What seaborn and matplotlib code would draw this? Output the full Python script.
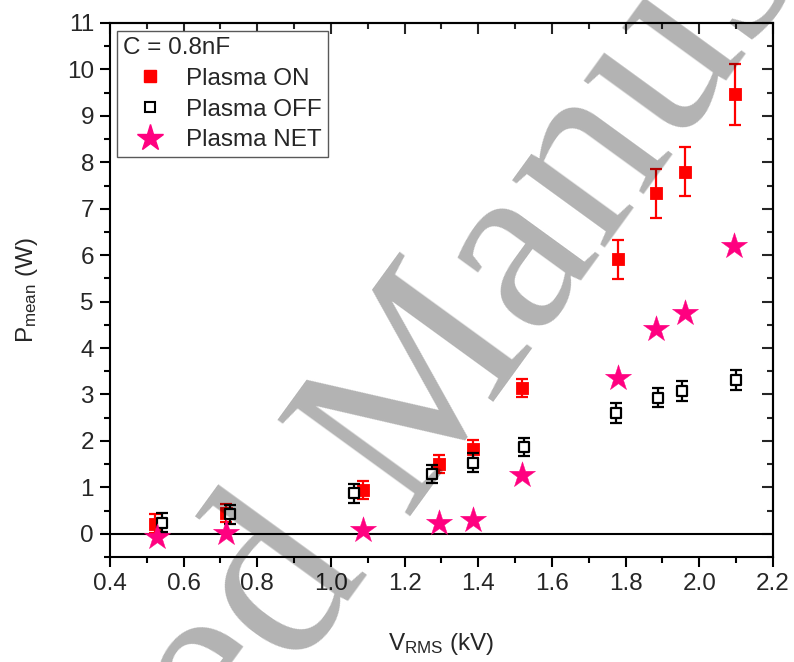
import matplotlib
matplotlib.use("Agg")
import matplotlib.pyplot as plt
import seaborn as sns
import pandas as pd
from matplotlib.lines import Line2D
from matplotlib.ticker import MultipleLocator

# Mean discharge power versus applied RMS voltage, C = 0.8 nF
v_on = [0.521, 0.714, 1.086, 1.292, 1.385, 1.520, 1.779, 1.882, 1.961, 2.098]
p_on = [0.22, 0.45, 0.94, 1.50, 1.83, 3.14, 5.91, 7.33, 7.80, 9.46]
err_on = [0.20, 0.20, 0.20, 0.20, 0.19, 0.20, 0.42, 0.52, 0.53, 0.66]

v_off = [0.542, 0.725, 1.062, 1.273, 1.385, 1.523, 1.774, 1.887, 1.953, 2.100]
p_off = [0.24, 0.42, 0.87, 1.29, 1.53, 1.87, 2.60, 2.93, 3.08, 3.31]
err_off = [0.20, 0.21, 0.20, 0.20, 0.20, 0.20, 0.21, 0.20, 0.21, 0.22]

v_net = [0.529, 0.714, 1.086, 1.292, 1.385, 1.520, 1.779, 1.882, 1.961, 2.095]
p_net = [-0.07, 0.01, 0.08, 0.23, 0.29, 1.27, 3.36, 4.42, 4.76, 6.19]

x_ticks = [0.4, 0.6, 0.8, 1.0, 1.2, 1.4, 1.6, 1.8, 2.0, 2.2]
y_ticks = list(range(0, 12))

series_labels = ["Plasma ON", "Plasma OFF", "Plasma NET"]
legend_title = "C = 0.8nF"

RED = "#FF0000"
PINK = "#FF0080"
FS = 17.5

sns.set_theme(style="ticks")
plt.rcParams["font.family"] = ["Liberation Sans", "DejaVu Sans"]
plt.rcParams["mathtext.fontset"] = "custom"
plt.rcParams["mathtext.rm"] = "Liberation Sans"
plt.rcParams["mathtext.it"] = "Liberation Sans"

df_on = pd.DataFrame({"V": v_on, "P": p_on, "err": err_on})
df_off = pd.DataFrame({"V": v_off, "P": p_off, "err": err_off})
df_net = pd.DataFrame({"V": v_net, "P": p_net})

fig = plt.figure(figsize=(7.94, 6.62), dpi=100)
ax = fig.add_axes([0.1385, 0.1586, 0.835, 0.8067])

ax.axhline(0, color="black", lw=1.5, zorder=1)

# Plasma ON
ax.errorbar(df_on["V"], df_on["P"], yerr=df_on["err"], fmt="none",
            ecolor=RED, elinewidth=1.6, capsize=4.3, capthick=1.6, zorder=2)
sns.scatterplot(data=df_on, x="V", y="P", marker="s", s=70, color=RED,
                edgecolor=RED, linewidth=0.6, ax=ax, zorder=3)

# Plasma OFF
ax.errorbar(df_off["V"], df_off["P"], yerr=df_off["err"], fmt="none",
            ecolor="black", elinewidth=1.6, capsize=4.3, capthick=1.6, zorder=4)
sns.scatterplot(data=df_off, x="V", y="P", marker="s", s=55, color="white",
                edgecolor="black", linewidth=1.6, ax=ax, zorder=5)

# Plasma NET
sns.scatterplot(data=df_net, x="V", y="P", marker="*", s=390, color=PINK,
                edgecolor=PINK, linewidth=0.3, ax=ax, zorder=6)

ax.set_xlim(0.4, 2.2)
ax.set_ylim(-0.5, 11)
ax.set_xticks(x_ticks)
ax.set_xticklabels([f"{t:.1f}" for t in x_ticks])
ax.set_yticks(y_ticks)
ax.xaxis.set_minor_locator(MultipleLocator(0.1))
ax.yaxis.set_minor_locator(MultipleLocator(0.5))

ax.set_xlabel(r"V$_{\mathregular{RMS}}$ (kV)", fontsize=FS, labelpad=26)
ax.set_ylabel(r"P$_{\mathregular{mean}}$ (W)", fontsize=FS, labelpad=19)

for sp in ax.spines.values():
    sp.set_linewidth(1.5)
    sp.set_color("black")

ax.tick_params(axis="both", which="major", direction="out", length=7.5,
               width=1.5, labelsize=FS, color="black", pad=4)
ax.tick_params(axis="both", which="minor", direction="out", length=4,
               width=1.5, color="black")

# inward ticks on the top and right frame
top = ax.secondary_xaxis("top")
top.set_xticks(x_ticks)
top.xaxis.set_minor_locator(MultipleLocator(0.1))
top.tick_params(which="major", direction="in", length=8, width=1.5, labeltop=False)
top.tick_params(which="minor", direction="in", length=4, width=1.5)
top.spines["top"].set_linewidth(1.5)

right = ax.secondary_yaxis("right")
right.set_yticks(y_ticks)
right.yaxis.set_minor_locator(MultipleLocator(0.5))
right.tick_params(which="major", direction="in", length=8, width=1.5, labelright=False)
right.tick_params(which="minor", direction="in", length=4, width=1.5)
right.spines["right"].set_linewidth(1.5)

handles = [
    Line2D([], [], ls="none", marker="s", ms=8.4, color=RED, mec=RED),
    Line2D([], [], ls="none", marker="s", ms=7.4, mfc="white", mec="black", mew=1.5),
    Line2D([], [], ls="none", marker="*", ms=20, color=PINK, mec=PINK),
]
leg = ax.legend(handles, series_labels, title=legend_title, loc="upper left",
                bbox_to_anchor=(0.0106, 0.985), borderaxespad=0,
                fontsize=FS, title_fontsize=FS, frameon=True, fancybox=False,
                framealpha=1, edgecolor="0.35", borderpad=0.25,
                handlelength=2.2, handletextpad=0.4, labelspacing=0.36,
                alignment="left")
leg.get_frame().set_linewidth(1.0)
leg.set_zorder(10)

# "Accepted Manuscript" stamp across the page
fig.text(0.499, 0.346, "Accepted Manuscript", fontsize=180,
         family=["Liberation Serif", "DejaVu Serif"], rotation=54,
         rotation_mode="anchor", ha="center", va="center",
         color="black", alpha=0.3, zorder=100)

fig.savefig("out.png", dpi=100)
